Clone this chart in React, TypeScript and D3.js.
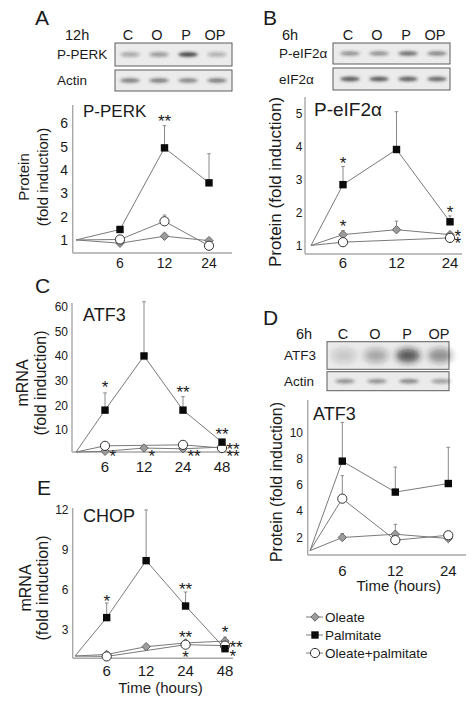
import React from "react";
import * as d3 from "d3";

const FONT = "'Liberation Sans', Arial, Helvetica, sans-serif";

// ---------- blot data ----------
const lanes = ["C", "O", "P", "OP"];
const blotA_pperk = [0.35, 0.42, 0.85, 0.3];
const blotA_actin = [0.55, 0.55, 0.5, 0.55];
const blotB_peif = [0.45, 0.45, 0.62, 0.5];
const blotB_eif = [0.72, 0.72, 0.7, 0.66];
const blotD_atf3 = [0.18, 0.32, 0.7, 0.45];
const blotD_actin = [0.45, 0.45, 0.5, 0.38];

// ---------- time categories ----------
const times3 = ["0", "6", "12", "24"];
const times4 = ["0", "6", "12", "24", "48"];

// ---------- Panel A: P-PERK ----------
const aPalm = [1, 1.45, 4.95, 3.45];
const aPalmErr = [0, 0, 0.95, 1.25];
const aOle = [1, 0.86, 1.16, 0.97];
const aOleErr = [0, 0, 0, 0];
const aOP = [1, 1.02, 1.8, 0.75];
const aOPErr = [0, 0, 0.27, 0];
const aTicks = [1, 2, 3, 4, 5, 6];

// ---------- Panel B: P-eIF2a ----------
const bPalm = [1, 2.85, 3.92, 1.72];
const bPalmErr = [0, 0.55, 1.15, 0.18];
const bOle = [1, 1.33, 1.48, 1.33];
const bOleErr = [0, 0.12, 0.26, 0.05];
const bOP = [1, 1.1, null, 1.23];
const bOPErr = [0, 0, 0, 0];
const bTicks = [1, 2, 3, 4, 5];

// ---------- Panel C: ATF3 mRNA ----------
const cPalm = [1, 18, 40, 18, 5];
const cPalmErr = [0, 7, 22, 5.5, 0.8];
const cOle = [1, 1.3, 2.6, 2.3, 3.0];
const cOleErr = [0, 0, 0, 0, 0];
const cOP = [1, 3.5, null, 3.9, 2.6];
const cOPErr = [0, 0, 0, 0, 0];
const cTicks = [10, 20, 30, 40, 50, 60];

// ---------- Panel D: ATF3 protein ----------
const dPalm = [1, 7.8, 5.45, 6.1];
const dPalmErr = [0, 2.95, 1.9, 2.75];
const dOle = [1, 2.0, 2.25, 1.92];
const dOleErr = [0, 0.3, 0.75, 0.45];
const dOP = [1, 4.95, 1.8, 2.17];
const dOPErr = [0, 1.75, 0, 0.2];
const dTicks = [2, 4, 6, 8, 10];

// ---------- Panel E: CHOP mRNA ----------
const ePalm = [1, 3.88, 8.15, 4.75, 1.55];
const ePalmErr = [0, 1.1, 3.8, 1.05, 0];
const eOle = [1, 1.12, 1.7, 1.98, 2.12];
const eOleErr = [0, 0.1, 0.1, 0.15, 0.3];
const eOP = [1, 0.97, null, 1.85, 1.78];
const eOPErr = [0, 0, 0, 0, 0];
const eTicks = [3, 6, 9, 12];

// ---------- significance marks (time, value level of top mark, text lines, side) ----------
type Star = { t: string; v: number; s: string[]; side: "above" | "right" };
const starsA: Star[] = [{ t: "12", v: 6.25, s: ["**"], side: "above" }];
const starsB: Star[] = [
  { t: "6", v: 3.63, s: ["*"], side: "above" },
  { t: "6", v: 1.7, s: ["*"], side: "above" },
  { t: "24", v: 2.15, s: ["*"], side: "above" },
  { t: "24", v: 1.41, s: ["*", "*"], side: "right" },
];
const starsC: Star[] = [
  { t: "6", v: 29, s: ["*"], side: "above" },
  { t: "6", v: 0.9, s: ["*"], side: "right" },
  { t: "12", v: 0.9, s: ["*"], side: "right" },
  { t: "24", v: 27, s: ["**"], side: "above" },
  { t: "24", v: 0.9, s: ["**"], side: "right" },
  { t: "48", v: 10, s: ["**"], side: "above" },
  { t: "48", v: 3.8, s: ["**", "**"], side: "right" },
];
const starsE: Star[] = [
  { t: "6", v: 5.45, s: ["*"], side: "above" },
  { t: "24", v: 6.3, s: ["**"], side: "above" },
  { t: "24", v: 2.75, s: ["**"], side: "above" },
  { t: "24", v: 1.25, s: ["*"], side: "above" },
  { t: "48", v: 3.08, s: ["*"], side: "above" },
  { t: "48", v: 1.97, s: ["**", "*"], side: "right" },
];

const legendLabels = ["Oleate", "Palmitate", "Oleate+palmitate"];

type Kind = "ole" | "palm" | "op";
type Series = { kind: Kind; values: (number | null)[]; errors: number[] };

const TEXT = "#1a1a1a";
const LINE = "#7a7a7a";
const AXIS = "#a8a8a8";
const STAR_SIZE = 17;

function Marker({ kind, x, y }: { kind: Kind; x: number; y: number }) {
  if (kind === "palm") {
    const s = 7.4;
    return <rect x={x - s / 2} y={y - s / 2} width={s} height={s} fill="#0a0a0a" />;
  }
  if (kind === "op") {
    return <circle cx={x} cy={y} r={4.6} fill="#fff" stroke="#333" strokeWidth={1} />;
  }
  const r = 4.2;
  return (
    <path
      d={`M${x},${y - r}L${x + r},${y}L${x},${y + r}L${x - r},${y}Z`}
      fill="#9c9c9c"
      stroke="#5a5a5a"
      strokeWidth={0.9}
    />
  );
}

type PanelProps = {
  times: string[];
  series: Series[];
  ticks: number[];
  yDomain: [number, number];
  yRange: [number, number];
  axisX: number;
  axisTop: number;
  xEnd: number;
  originX: number;
  xRange: [number, number];
  tickGap: number;
  tickSize: number;
  xTickSize: number;
  xLabelY: number;
  title: string;
  titleX: number;
  titleY: number;
  titleSize: number;
  ylabels: string[];
  ylabelXs: number[];
  ylabelY: number;
  ylabelSize: number;
  stars: Star[];
  starGap: number;
  xTitle?: string;
  xTitleX?: number;
  xTitleY?: number;
};

function LinePanel(p: PanelProps) {
  const cats = p.times.slice(1);
  const xp = d3.scalePoint<string>().domain(cats).range(p.xRange);
  const x = (t: string) => (t === p.times[0] ? p.originX : (xp(t) as number));
  const y = d3.scaleLinear().domain(p.yDomain).range(p.yRange);
  const axisY = p.yRange[0];
  const line = d3
    .line<[number, number]>()
    .x((d) => d[0])
    .y((d) => d[1]);
  const order: Kind[] = ["ole", "op", "palm"];
  const sorted = order.map((k) => p.series.find((s) => s.kind === k)!).filter(Boolean);

  return (
    <g>
      {/* axes */}
      <line x1={p.axisX} x2={p.axisX} y1={p.axisTop} y2={axisY} stroke={AXIS} strokeWidth={1.4} />
      <line x1={p.axisX} x2={p.xEnd} y1={axisY} y2={axisY} stroke={AXIS} strokeWidth={1.4} />
      {p.ticks.map((t) => (
        <text
          key={"yt" + t}
          x={p.axisX - p.tickGap}
          y={y(t) + p.tickSize * 0.36}
          textAnchor="end"
          fontSize={p.tickSize}
          fontFamily={FONT}
          fill={TEXT}
        >
          {t}
        </text>
      ))}
      {cats.map((c) => (
        <text
          key={"xt" + c}
          x={x(c)}
          y={p.xLabelY}
          textAnchor="middle"
          fontSize={p.xTickSize}
          fontFamily={FONT}
          fill={TEXT}
        >
          {c}
        </text>
      ))}
      {p.xTitle && (
        <text x={p.xTitleX} y={p.xTitleY} textAnchor="middle" fontSize={15} fontFamily={FONT} fill={TEXT}>
          {p.xTitle}
        </text>
      )}
      {p.ylabels.map((l, i) => (
        <text
          key={"yl" + i}
          transform={`translate(${p.ylabelXs[i]},${p.ylabelY}) rotate(-90)`}
          textAnchor="middle"
          fontSize={p.ylabelSize}
          fontFamily={FONT}
          fill={TEXT}
        >
          {l}
        </text>
      ))}
      <text x={p.titleX} y={p.titleY} fontSize={p.titleSize} fontFamily={FONT} fill={TEXT}>
        {p.title}
      </text>
      {/* lines */}
      {sorted.map((s) => {
        const pts: [number, number][] = [];
        s.values.forEach((v, i) => {
          if (v !== null) pts.push([x(p.times[i]), y(v)]);
        });
        return <path key={"l" + s.kind} d={line(pts) || ""} fill="none" stroke={LINE} strokeWidth={1} />;
      })}
      {/* error bars */}
      {sorted.map((s) =>
        s.values.map((v, i) => {
          const e = s.errors[i];
          if (v === null || !e) return null;
          const xx = x(p.times[i]);
          const y0 = y(v);
          const y1 = y(v + e);
          return (
            <g key={"e" + s.kind + i}>
              <line x1={xx} x2={xx} y1={y0} y2={y1} stroke="#8a8a8a" strokeWidth={1} />
              <line x1={xx - 1.8} x2={xx + 1.8} y1={y1} y2={y1} stroke="#8a8a8a" strokeWidth={1} />
            </g>
          );
        })
      )}
      {/* markers (not at origin) */}
      {sorted.map((s) =>
        s.values.map((v, i) =>
          v === null || i === 0 ? null : <Marker key={"m" + s.kind + i} kind={s.kind} x={x(p.times[i])} y={y(v)} />
        )
      )}
      {/* significance stars */}
      {p.stars.map((st, i) => {
        const sx = st.side === "above" ? x(st.t) : x(st.t) + 4.5;
        return (
          <text
            key={"s" + i}
            x={sx}
            y={y(st.v) + STAR_SIZE * 0.58}
            textAnchor={st.side === "above" ? "middle" : "start"}
            fontSize={STAR_SIZE}
            fontFamily={FONT}
            fill={TEXT}
          >
            {st.s.map((line, j) => (
              <tspan key={j} x={sx} dy={j === 0 ? 0 : p.starGap}>
                {line}
              </tspan>
            ))}
          </text>
        );
      })}
    </g>
  );
}

type BlotProps = {
  time: string;
  timeX: number;
  headerY: number;
  laneRange: [number, number];
  boxX: [number, number];
  rows: { label: string; y: [number, number]; bands: number[]; smudge?: boolean }[];
  labelX: number;
};

function Blot(b: BlotProps) {
  const lx = d3.scalePoint<string>().domain(lanes).range(b.laneRange);
  return (
    <g>
      <text x={b.timeX} y={b.headerY} fontSize={14.5} fontFamily={FONT} fill={TEXT}>
        {b.time}
      </text>
      {lanes.map((l) => (
        <text key={l} x={lx(l)} y={b.headerY} textAnchor="middle" fontSize={14.5} fontFamily={FONT} fill={TEXT}>
          {l}
        </text>
      ))}
      {b.rows.map((r, ri) => {
        const cy = (r.y[0] + r.y[1]) / 2;
        return (
          <g key={ri}>
            <rect
              x={b.boxX[0]}
              y={r.y[0]}
              width={b.boxX[1] - b.boxX[0]}
              height={r.y[1] - r.y[0]}
              fill="#ebebeb"
              stroke="#5c5c5c"
              strokeWidth={1}
            />
            {r.bands.map((v, i) => (
              <ellipse
                key={i}
                cx={(lx(lanes[i]) as number) + (r.smudge ? 1 : 2)}
                cy={cy}
                rx={r.smudge ? 12 : 10}
                ry={r.smudge ? 7 : 2.2}
                fill={`rgba(30,30,30,${v})`}
                filter={r.smudge ? "url(#blurBig)" : "url(#blurSmall)"}
              />
            ))}
            <text x={b.labelX} y={cy + 4.8} fontSize={13.5} fontFamily={FONT} fill={TEXT}>
              {r.label}
            </text>
          </g>
        );
      })}
    </g>
  );
}

export default function App() {
  const mk = (p: (number | null)[], pe: number[], o: (number | null)[], oe: number[], op: (number | null)[], ope: number[]): Series[] => [
    { kind: "ole", values: o, errors: oe },
    { kind: "palm", values: p, errors: pe },
    { kind: "op", values: op, errors: ope },
  ];
  const letter = (s: string, xx: number, yy: number) => (
    <text x={xx} y={yy} fontSize={21} fontFamily={FONT} fill={TEXT}>
      {s}
    </text>
  );
  const legendKinds: Kind[] = ["ole", "palm", "op"];
  const legY = d3.scalePoint<string>().domain(legendLabels).range([617, 653]);

  return (
    <svg
      width={472}
      height={705}
      viewBox="0 0 472 705"
      style={{ position: "absolute", left: 0, top: 0, background: "#fff" }}
    >
      <defs>
        <filter id="blurSmall" x="-50%" y="-200%" width="200%" height="500%">
          <feGaussianBlur stdDeviation="1.4" />
        </filter>
        <filter id="blurBig" x="-50%" y="-100%" width="200%" height="300%">
          <feGaussianBlur stdDeviation="3" />
        </filter>
      </defs>
      <rect x={0} y={0} width={472} height={705} fill="#fff" />

      {letter("A", 35, 25)}
      {letter("B", 263, 25)}
      {letter("C", 35, 293)}
      {letter("D", 263, 325)}
      {letter("E", 37, 495)}

      <Blot
        time="12h"
        timeX={65}
        headerY={39.5}
        laneRange={[128, 215]}
        boxX={[115, 232]}
        labelX={57}
        rows={[
          { label: "P-PERK", y: [43, 66], bands: blotA_pperk },
          { label: "Actin", y: [70, 91], bands: blotA_actin },
        ]}
      />
      <Blot
        time="6h"
        timeX={282}
        headerY={39.5}
        laneRange={[348, 435]}
        boxX={[333, 450]}
        labelX={279}
        rows={[
          { label: "P-eIF2α", y: [43, 64], bands: blotB_peif },
          { label: "eIF2α", y: [68, 90], bands: blotB_eif },
        ]}
      />
      <Blot
        time="6h"
        timeX={296}
        headerY={338.5}
        laneRange={[343, 439]}
        boxX={[327, 449]}
        labelX={284}
        rows={[
          { label: "ATF3", y: [341.7, 369.3], bands: blotD_atf3, smudge: true },
          { label: "Actin", y: [371.7, 390.7], bands: blotD_actin },
        ]}
      />

      <LinePanel
        times={times3}
        series={mk(aPalm, aPalmErr, aOle, aOleErr, aOP, aOPErr)}
        ticks={aTicks}
        yDomain={[0.44, 6]}
        yRange={[253, 123.4]}
        axisX={72.7}
        axisTop={105}
        xEnd={232}
        originX={76}
        xRange={[120, 209]}
        tickGap={4.7}
        tickSize={14}
        xTickSize={14}
        xLabelY={268}
        title="P-PERK"
        titleX={83}
        titleY={117}
        titleSize={17}
        ylabels={["Protein", "(fold induction)"]}
        ylabelXs={[28.5, 47.5]}
        ylabelY={177}
        ylabelSize={15}
        stars={starsA}
        starGap={7}
      />
      <LinePanel
        times={times3}
        series={mk(bPalm, bPalmErr, bOle, bOleErr, bOP, bOPErr)}
        ticks={bTicks}
        yDomain={[0.74, 5]}
        yRange={[254, 114]}
        axisX={305}
        axisTop={97}
        xEnd={462}
        originX={311}
        xRange={[343, 450]}
        tickGap={2.5}
        tickSize={12}
        xTickSize={15}
        xLabelY={267.5}
        title="P-eIF2α"
        titleX={314}
        titleY={116}
        titleSize={19}
        ylabels={["Protein (fold induction)"]}
        ylabelXs={[281]}
        ylabelY={182}
        ylabelSize={17}
        stars={starsB}
        starGap={7}
      />
      <LinePanel
        times={times4}
        series={mk(cPalm, cPalmErr, cOle, cOleErr, cOP, cOPErr)}
        ticks={cTicks}
        yDomain={[1, 60]}
        yRange={[452, 306.7]}
        axisX={72}
        axisTop={303}
        xEnd={234}
        originX={76}
        xRange={[105, 222]}
        tickGap={4}
        tickSize={12}
        xTickSize={15}
        xLabelY={472}
        title="ATF3"
        titleX={83}
        titleY={321}
        titleSize={18}
        ylabels={["mRNA", "(fold induction)"]}
        ylabelXs={[28, 46]}
        ylabelY={383}
        ylabelSize={16}
        stars={starsC}
        starGap={6.7}
      />
      <LinePanel
        times={times3}
        series={mk(dPalm, dPalmErr, dOle, dOleErr, dOP, dOPErr)}
        ticks={dTicks}
        yDomain={[0.67, 10]}
        yRange={[555, 432.2]}
        axisX={307.7}
        axisTop={400}
        xEnd={466}
        originX={310}
        xRange={[342.3, 448.3]}
        tickGap={4.7}
        tickSize={12}
        xTickSize={15}
        xLabelY={575.5}
        title="ATF3"
        titleX={313}
        titleY={420}
        titleSize={18}
        ylabels={["Protein (fold induction)"]}
        ylabelXs={[282]}
        ylabelY={482}
        ylabelSize={16}
        stars={[]}
        starGap={7}
        xTitle="Time (hours)"
        xTitleX={398.7}
        xTitleY={590.5}
      />
      <LinePanel
        times={times4}
        series={mk(ePalm, ePalmErr, eOle, eOleErr, eOP, eOPErr)}
        ticks={eTicks}
        yDomain={[0.83, 12]}
        yRange={[658.3, 509.3]}
        axisX={72.7}
        axisTop={508}
        xEnd={233}
        originX={75}
        xRange={[106.7, 225]}
        tickGap={4.2}
        tickSize={12}
        xTickSize={15}
        xLabelY={675.5}
        title="CHOP"
        titleX={83}
        titleY={522}
        titleSize={18}
        ylabels={["mRNA", "(fold induction)"]}
        ylabelXs={[30.5, 48]}
        ylabelY={588}
        ylabelSize={16}
        stars={starsE}
        starGap={8.7}
        xTitle="Time (hours)"
        xTitleX={160.5}
        xTitleY={693}
      />

      {/* legend */}
      {legendLabels.map((l, i) => {
        const yy = legY(l) as number;
        return (
          <g key={l}>
            <line x1={306} x2={323} y1={yy} y2={yy} stroke={LINE} strokeWidth={1} />
            <Marker kind={legendKinds[i]} x={315} y={yy} />
            <text x={325} y={yy + 5} fontSize={13.5} fontFamily={FONT} fill={TEXT}>
              {l}
            </text>
          </g>
        );
      })}
    </svg>
  );
}
